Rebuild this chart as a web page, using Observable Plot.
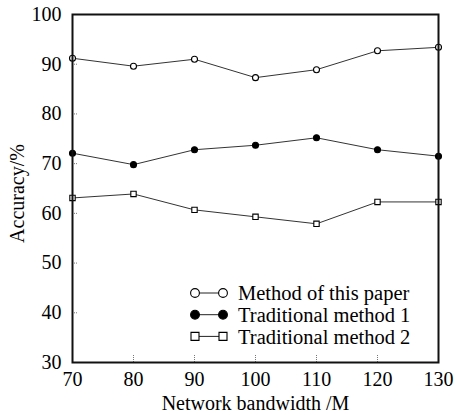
<!DOCTYPE html>
<html><head><meta charset="utf-8">
<script src="https://cdn.jsdelivr.net/npm/d3@7"></script>
<script src="https://cdn.jsdelivr.net/npm/@observablehq/plot@0.6"></script>
<style>body{margin:0;background:#fff}</style>
</head><body><div id="chart"></div>
<script>
const bandwidth = [70, 80, 90, 100, 110, 120, 130];
const methodPaper = [91.2, 89.6, 91.0, 87.3, 88.9, 92.7, 93.4];
const method1 = [72.1, 69.8, 72.8, 73.7, 75.2, 72.8, 71.5];
const method2 = [63.1, 63.9, 60.7, 59.3, 57.9, 62.3, 62.3];
const seriesNames = ["Method of this paper", "Traditional method 1", "Traditional method 2"];
const xTicks = [70, 80, 90, 100, 110, 120, 130];
const yTicks = [30, 40, 50, 60, 70, 80, 90, 100];
const xInnerTicks = [80, 90, 100, 110, 120];
const yInnerTicks = [40, 50, 60, 70, 80, 90];
const xLabel = "Network bandwidth /M";
const yLabel = "Accuracy/%";

const seriesValues = [methodPaper, method1, method2];
const seriesStyle = [
  {symbol: "circle", fill: "white"},
  {symbol: "circle", fill: "black"},
  {symbol: "square", fill: "white"}
];
const rows = seriesNames.flatMap((name, s) =>
  bandwidth.map((b, i) => ({series: name, x: b, y: seriesValues[s][i], s})));

const font = "'Liberation Serif', 'Times New Roman', serif";
const R = 4.4;

function legendMark(index, scales, values, dims) {
  const g = d3.create("svg:g").attr("font-family", font).attr("font-size", 20.5)
    .attr("text-anchor", "start");
  const x0 = dims.marginLeft, y0 = dims.height - dims.marginBottom;
  seriesNames.forEach((name, i) => {
    const cy = y0 - 69 + i * 21.7;
    const xa = x0 + 123, xb = x0 + 151;
    g.append("line").attr("x1", xa).attr("x2", xb).attr("y1", cy).attr("y2", cy)
      .attr("stroke", "#222").attr("stroke-width", 1);
    const st = seriesStyle[i];
    const sym = st.symbol === "square" ? d3.symbolSquare : d3.symbolCircle;
    const size = st.symbol === "square" ? 64 : Math.PI * R * R;
    [xa, xb].forEach(x => g.append("path")
      .attr("d", d3.symbol(sym, size)())
      .attr("transform", `translate(${x},${cy})`)
      .attr("fill", st.fill).attr("stroke", "black").attr("stroke-width", 1.1));
    g.append("text").attr("x", x0 + 166).attr("y", cy).attr("dy", "0.35em")
      .attr("fill", "black").attr("text-anchor", "start").text(name);
  });
  return g.node();
}

const chart = Plot.plot({
  width: 455,
  height: 415,
  marginLeft: 72,
  marginRight: 17,
  marginTop: 14,
  marginBottom: 53,
  style: {fontFamily: font, fontSize: "20px", background: "white", color: "black"},
  x: {domain: [70, 130]},
  y: {domain: [30, 100]},
  marks: [
    Plot.axisY(yInnerTicks, {tickSize: -6, tickFormat: () => "", stroke: "#777", strokeDasharray: "1,1", label: null}),
    Plot.axisX(xInnerTicks, {tickSize: -7, tickFormat: () => "", stroke: "#777", strokeDasharray: "1,1", label: null}),
    Plot.axisY(yTicks, {tickSize: 0, tickPadding: 11, fontSize: 20, label: null}),
    Plot.axisX(xTicks, {tickSize: 0, tickPadding: 9, fontSize: 20, label: xLabel, labelAnchor: "center", labelOffset: 47, labelArrow: "none"}),
    Plot.text([yLabel], {frameAnchor: "left", text: d => d, rotate: -90, textAnchor: "middle", lineAnchor: "middle", dx: -55, dy: 5, fontSize: 20, fill: "black"}),
    Plot.line(rows, {x: "x", y: "y", z: "series", stroke: "#333", strokeWidth: 1}),
    Plot.dot(rows, {x: "x", y: "y", symbol: d => seriesStyle[d.s].symbol, r: d => seriesStyle[d.s].symbol === "square" ? 4.5 : R,
      fill: d => seriesStyle[d.s].fill, stroke: "black", strokeWidth: 1.1}),
    Plot.frame({stroke: "#111", strokeWidth: 2}),
    legendMark
  ]
});
document.getElementById("chart").appendChild(chart);
</script>
</body></html>
